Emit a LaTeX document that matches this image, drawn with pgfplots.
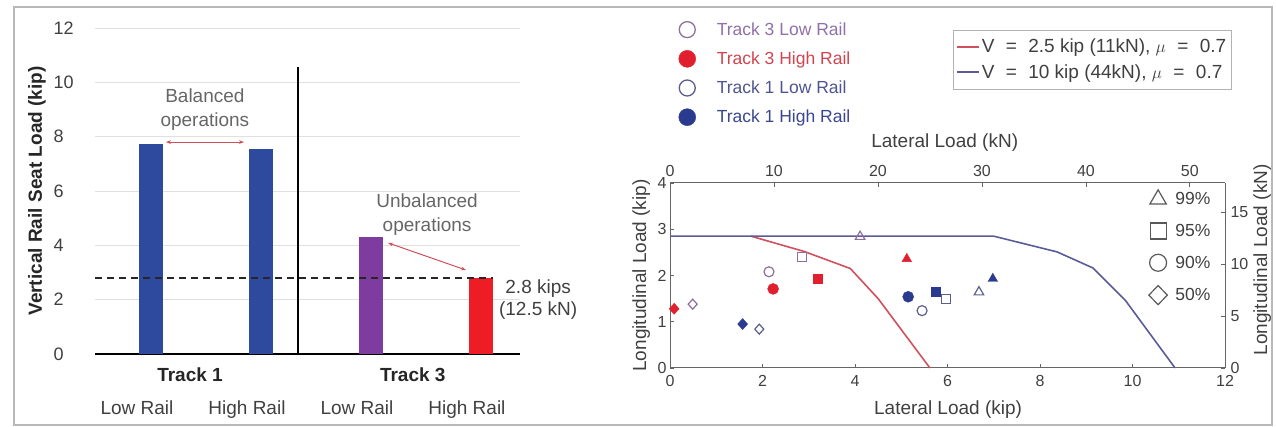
\documentclass[border=0pt]{standalone}
\usepackage{pgfplots}
\pgfplotsset{compat=1.18}
\usepackage{fontspec}
\setmainfont{Liberation Sans}
\usetikzlibrary{arrows.meta}
\definecolor{barblue}{HTML}{2E4A9E}
\definecolor{barpurple}{HTML}{7E3C9E}
\definecolor{barred}{HTML}{EE1C24}
\definecolor{annred}{HTML}{D0505A}
\definecolor{t3low}{HTML}{8E6E9E}
\definecolor{t3high}{HTML}{E0202E}
\definecolor{t1low}{HTML}{5A5E8E}
\definecolor{t1high}{HTML}{2A3A8E}
\definecolor{t3lowtxt}{HTML}{9070A8}
\definecolor{t3hightxt}{HTML}{D04450}
\definecolor{t1lowtxt}{HTML}{4E5590}
\definecolor{t1hightxt}{HTML}{3A4690}
\definecolor{vred}{HTML}{D0505E}
\definecolor{vblue}{HTML}{5A5C98}
\definecolor{txt}{HTML}{404040}
\newcommand\fL{\fontsize{19}{24}\selectfont}
\newcommand\fT{\fontsize{18}{20}\selectfont}
\newcommand\fS{\fontsize{16}{19}\selectfont}
\newcommand\fG{\fontsize{17.5}{20}\selectfont}
\newcommand\eq{\hspace{0.6em}=\hspace{0.6em}}

\begin{document}
\begin{tikzpicture}
\useasboundingbox (0pt,0pt) rectangle (1276pt,427pt);
\draw[gray!55, line width=1.5pt] (14pt,420pt) rectangle (1272pt,2pt);

% ---------------- left bar chart ----------------
\begin{axis}[
  at={(95pt,73pt)}, anchor=south west, scale only axis,
  width=425pt, height=326pt,
  xmin=-0.509, xmax=3.355, ymin=0, ymax=12,
  axis x line*=bottom, axis y line*=left,
  x axis line style={black, line width=1.4pt, -},
  y axis line style={draw=none},
  ytick={0,2,...,12},
  ymajorgrids, grid style={black!12, line width=0.7pt},
  major tick length=0pt,
  xtick={0,1,2,3},
  xticklabels={Low Rail, High Rail, Low Rail, High Rail},
  xticklabel style={font=\fL, text=txt, xshift=-14pt, yshift=-43pt},
  yticklabel style={font=\fT, text=txt, anchor=west, xshift=-45pt},
  /pgf/number format/assume math mode=true,
  ylabel={Vertical Rail Seat Load (kip)},
  ylabel style={font=\fL\bfseries, text=black!85, at={(axis description cs:-0.1365,0.5)}, anchor=center},
  clip=false,
]
\addplot[ybar, bar width=24pt, bar shift=0pt, fill=barblue, draw=none] coordinates {(0,7.72)};
\addplot[ybar, bar width=24pt, bar shift=0pt, fill=barblue, draw=none] coordinates {(1,7.54)};
\addplot[ybar, bar width=24pt, bar shift=0pt, fill=barpurple, draw=none] coordinates {(2,4.30)};
\addplot[ybar, bar width=24pt, bar shift=0pt, fill=barred, draw=none] coordinates {(3,2.80)};
\addplot[black!85, dash pattern=on 7pt off 5pt, line width=1.5pt] coordinates {(-0.509,2.8) (3.11,2.8)};
\addplot[black, line width=1.4pt] coordinates {(1.336,0) (1.336,10.55)};
\node[font=\fL, text=black!60, align=center] at (axis cs:0.49,8.98) {Balanced\\operations};
\draw[annred, {Stealth[length=5pt]}-{Stealth[length=5pt]}, line width=1pt] (axis cs:0.136,7.8) -- (axis cs:0.845,7.8);
\node[font=\fL, text=black!60, align=center] at (axis cs:2.51,5.12) {Unbalanced\\operations};
\draw[annred, {Stealth[length=5pt]}-{Stealth[length=5pt]}, line width=1pt] (axis cs:2.155,4.09) -- (axis cs:2.864,3.09);
\node[font=\fontsize{19}{22}\selectfont, text=txt, align=center] at (axis cs:3.52,2.02) {2.8 kips\\(12.5 kN)};
\node[font=\fL\bfseries, text=black!85, yshift=-21pt] at (axis cs:0.355,0) {Track 1};
\node[font=\fL\bfseries, text=black!85, yshift=-21pt] at (axis cs:2.38,0) {Track 3};
\end{axis}

% ---------------- right chart: kip axes ----------------
\begin{axis}[
  at={(670pt,59pt)}, anchor=south west, scale only axis,
  width=555pt, height=185pt,
  xmin=0, xmax=12, ymin=0, ymax=4,
  axis x line*=bottom, axis y line*=left,
  axis line style={black!60, line width=1pt, -},
  xtick={0,2,...,12}, ytick={0,1,...,4},
  tick align=inside, major tick length=4pt, tick style={black!60, line width=0.8pt},
  ticklabel style={font=\fS, text=txt},
  xticklabel style={yshift=-4pt},
  /pgf/number format/assume math mode=true,
  xlabel={Lateral Load (kip)}, ylabel={Longitudinal Load (kip)},
  label style={font=\fL, text=black!75},
  xlabel style={at={(axis description cs:0.501,-0.227)}, anchor=center},
  ylabel style={at={(axis description cs:-0.052,0.5)}, anchor=center},
  legend style={at={(0.857,0.975)}, anchor=north west, draw=none, fill=none,
    font=\fG, text=txt, row sep=14pt, column sep=6pt, nodes={inner sep=2pt}},
  legend cell align=left,
  clip=false,
]
\addlegendimage{only marks, mark=triangle, mark size=9.5pt, black!65, mark options={line width=1.2pt}}
\addlegendentry{99\%}
\addlegendimage{only marks, mark=square, mark size=8pt, black!65, mark options={line width=1.2pt}}
\addlegendentry{95\%}
\addlegendimage{only marks, mark=o, mark size=8.5pt, black!65, mark options={line width=1.2pt}}
\addlegendentry{90\%}
\addlegendimage{only marks, mark=diamond, mark size=9.5pt, black!65, mark options={line width=1.2pt, xscale=1.3}}
\addlegendentry{50\%}

\addplot[forget plot, vred, line width=1.6pt] coordinates {(1.75,2.85) (2.9,2.52) (3.9,2.15) (4.5,1.5) (5.62,0)};
\addplot[forget plot, vblue, line width=1.6pt] coordinates {(0,2.85) (7.0,2.85) (8.37,2.51) (9.15,2.16) (9.84,1.47) (10.92,0)};

% Track 3 Low Rail (open)
\addplot[forget plot, only marks, mark=triangle, mark size=5.5pt, t3low, mark options={line width=1.2pt}] coordinates {(4.11,2.84)};
\addplot[forget plot, only marks, mark=square, mark size=4.5pt, t3low, mark options={line width=1.2pt}] coordinates {(2.85,2.40)};
\addplot[forget plot, only marks, mark=o, mark size=5pt, t3low, mark options={line width=1.2pt}] coordinates {(2.14,2.08)};
\addplot[forget plot, only marks, mark=diamond, mark size=5pt, t3low, mark options={line width=1.2pt, xscale=1.2}] coordinates {(0.49,1.38)};
% Track 3 High Rail (filled)
\addplot[forget plot, only marks, mark=triangle*, mark size=5.5pt, t3high, mark options={fill=t3high}] coordinates {(5.12,2.36)};
\addplot[forget plot, only marks, mark=square*, mark size=4.5pt, t3high, mark options={fill=t3high}] coordinates {(3.2,1.94)};
\addplot[forget plot, only marks, mark=*, mark size=5.5pt, t3high, mark options={fill=t3high}] coordinates {(2.23,1.71)};
\addplot[forget plot, only marks, mark=diamond*, mark size=5.5pt, t3high, mark options={fill=t3high, xscale=1.2}] coordinates {(0.09,1.28)};
% Track 1 Low Rail (open)
\addplot[forget plot, only marks, mark=triangle, mark size=5.5pt, t1low, mark options={line width=1.2pt}] coordinates {(6.68,1.64)};
\addplot[forget plot, only marks, mark=square, mark size=4.5pt, t1low, mark options={line width=1.2pt}] coordinates {(5.97,1.49)};
\addplot[forget plot, only marks, mark=o, mark size=5pt, t1low, mark options={line width=1.2pt}] coordinates {(5.45,1.24)};
\addplot[forget plot, only marks, mark=diamond, mark size=5pt, t1low, mark options={line width=1.2pt, xscale=1.2}] coordinates {(1.93,0.84)};
% Track 1 High Rail (filled)
\addplot[forget plot, only marks, mark=triangle*, mark size=5.5pt, t1high, mark options={fill=t1high}] coordinates {(6.98,1.93)};
\addplot[forget plot, only marks, mark=square*, mark size=4.5pt, t1high, mark options={fill=t1high}] coordinates {(5.75,1.64)};
\addplot[forget plot, only marks, mark=*, mark size=5.5pt, t1high, mark options={fill=t1high}] coordinates {(5.15,1.54)};
\addplot[forget plot, only marks, mark=diamond*, mark size=5.5pt, t1high, mark options={fill=t1high, xscale=1.2}] coordinates {(1.57,0.95)};
\end{axis}

% ---------------- right chart: kN axes ----------------
\begin{axis}[
  at={(670pt,59pt)}, anchor=south west, scale only axis,
  width=555pt, height=185pt,
  xmin=0, xmax=53.3786, ymin=0, ymax=17.7929,
  axis x line*=top, axis y line*=right,
  axis line style={black!60, line width=1pt, -},
  xtick={0,10,...,50}, ytick={0,5,10,15},
  tick align=inside, major tick length=4pt, tick style={black!60, line width=0.8pt},
  ticklabel style={font=\fS, text=txt},
  xticklabel style={yshift=3pt},
  yticklabel style={xshift=2pt},
  /pgf/number format/assume math mode=true,
  xlabel={Lateral Load (kN)}, ylabel={Longitudinal Load (kN)},
  label style={font=\fL, text=black!75},
  xlabel style={at={(axis description cs:0.495,1.216)}, anchor=center},
  ylabel style={at={(axis description cs:1.067,0.584)}, anchor=center},
  legend style={at={(0.51,1.827)}, anchor=north west, draw=black!30, fill=white,
    font=\fontsize{19}{21}\selectfont, text=txt, row sep=6pt,
    inner xsep=3pt, inner ysep=7pt, nodes={inner sep=2pt}},
  legend cell align=left,
  legend image code/.code={\draw[#1] (0pt,0pt) -- (22pt,0pt);},
  clip=false,
]
\addlegendimage{vred, line width=1.5pt}
\addlegendentry{V\eq 2.5 kip (11kN), \(\mu\)\eq 0.7}
\addlegendimage{vblue, line width=1.5pt}
\addlegendentry{V\eq 10 kip (44kN), \(\mu\)\eq 0.7}
\end{axis}

% ---------------- track legend ----------------
\begin{axis}[
  at={(670pt,59pt)}, anchor=south west, scale only axis,
  width=555pt, height=185pt,
  xmin=0, xmax=1, ymin=0, ymax=1, hide axis,
  legend style={at={(0.01,1.89)}, anchor=north west, draw=none, fill=none,
    font=\fG, row sep=11pt, column sep=19pt, nodes={inner sep=2pt}},
  legend cell align=left,
]
\addlegendimage{only marks, mark=o, mark size=8pt, t3low, mark options={line width=1.3pt}}
\addlegendentry{\textcolor{t3lowtxt}{Track 3 Low Rail}}
\addlegendimage{only marks, mark=*, mark size=8.5pt, t3high, mark options={fill=t3high}}
\addlegendentry{\textcolor{t3hightxt}{Track 3 High Rail}}
\addlegendimage{only marks, mark=o, mark size=8pt, t1low, mark options={line width=1.3pt}}
\addlegendentry{\textcolor{t1lowtxt}{Track 1 Low Rail}}
\addlegendimage{only marks, mark=*, mark size=8.5pt, t1high, mark options={fill=t1high}}
\addlegendentry{\textcolor{t1hightxt}{Track 1 High Rail}}
\end{axis}
\end{tikzpicture}
\end{document}
